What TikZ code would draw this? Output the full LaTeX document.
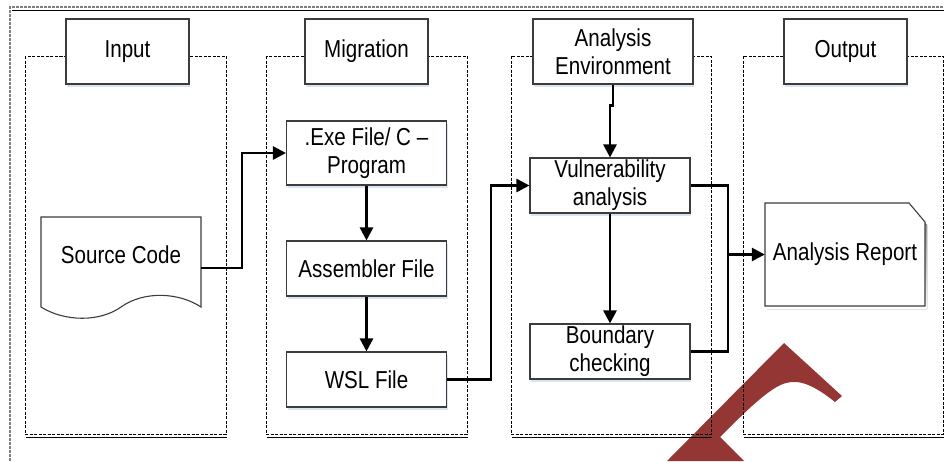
\documentclass[tikz,border=0pt]{standalone}
\usepackage{fontspec}
\setmainfont{Liberation Sans}[FakeStretch=0.84]
\usetikzlibrary{arrows.meta,shadows}
\definecolor{logored}{RGB}{148,54,52}
\definecolor{shade}{RGB}{218,229,241}
\definecolor{boxline}{RGB}{60,60,60}
\definecolor{framegray}{RGB}{128,128,128}
\begin{document}
\begin{tikzpicture}[x=1pt,y=-1pt,
  lbl/.style={font=\fontsize{24.5}{28}\selectfont, align=center, inner sep=0pt},
  box/.style={lbl, draw=boxline, line width=1.1pt, fill=white, minimum width=160pt, minimum height=55pt,
    drop shadow={shadow xshift=1pt, shadow yshift=-2.5pt, fill=shade, opacity=1}},
  titlebox/.style={box, minimum width=123pt, minimum height=65pt},
  lane/.style={draw=black, dash pattern=on 3pt off 1.5pt, line width=0.8pt},
  frame/.style={draw=framegray, dash pattern=on 3pt off 1pt, line width=1.4pt},
  arr/.style={line width=2.6pt, -{Triangle[length=13pt,width=13pt]}},
  wire/.style={line width=2.6pt}]
\useasboundingbox (0,0) rectangle (944,461);

% logo (background)
\fill[logored] (667,461) -- (784,343) -- (842,396) -- (835,402)
  .. controls (815,386) and (800,379) .. (786,383)
  .. controls (770,387) and (745,412) .. (720,437)
  -- (744,461) -- cycle;

% outer frame
\draw[shade, line width=1pt] (12,10.5) -- (944,10.5);
\draw[frame] (10,461) -- (10,7) -- (944,7);

% lanes
\foreach \a/\b in {25/226, 266/467, 511/711, 743/943}{
  \draw[shade, line width=0.8pt] (\a+1,437) -- (\b+1,437);
  \draw[lane] (\a,56) rectangle (\b,434);
}

% lane titles
\node[titlebox] (tin) at (127.5,51.5) {Input};
\node[titlebox] (tmig) at (366.5,51.5) {Migration};
\node[titlebox, minimum width=160pt] (env) at (613,51.5) {Analysis\\Environment};
\node[titlebox] (tout) at (845.5,51.5) {Output};

% source code document
\node[minimum width=160pt, minimum height=102pt, inner sep=0pt] (src) at (121,268) {};
\draw[boxline, line width=1.1pt, fill=white] (41,217) -- (201,217) -- (201,307)
  .. controls (180,293) and (145,290) .. (121,307)
  .. controls (100,322) and (65,322) .. (41,307) -- cycle;
\node[lbl] (srctxt) at (121,255) {Source Code};

% migration boxes
\node[box, minimum height=64pt] (exe) at (366.5,153) {.Exe File/ C –\\Program};
\node[box] (asm) at (366.5,268.5) {Assembler File};
\node[box] (wsl) at (366.5,379.5) {WSL File};

% analysis boxes
\node[box] (vul) at (610,185.5) {Vulnerability\\analysis};
\node[box] (bnd) at (610,351.5) {Boundary\\checking};

% report
\fill[shade] (767,206) -- (911,206) -- (927,225) -- (927,309) -- (767,309) -- cycle;
\draw[boxline, line width=1.1pt, fill=white] (765,203) -- (909,203) -- (925,222) -- (925,306) -- (765,306) -- cycle;
\node[lbl, minimum width=160pt, minimum height=103pt] (rep) at (845,254.5) {Analysis Report};

% connectors
\coordinate (busl) at (242,0);
\coordinate (busm) at (491,0);
\coordinate (busr) at (728,0);
\draw[arr] (src.east) -| (busl |- exe.west) -- (exe.west);
\draw[arr] (exe.south) -- (asm.north);
\draw[arr] (asm.south) -- (wsl.north);
\draw[arr] (wsl.east) -| (busm |- vul.west) -- (vul.west);
\draw[arr] (env.south) -- ++(0,21) -| (vul.north);
\draw[arr] (vul.south) -- (bnd.north);
\draw[wire] (vul.east) -| (busr |- bnd.east) -- (bnd.east);
\draw[arr] (busr |- rep.west) -- (rep.west);
\end{tikzpicture}
\end{document}
